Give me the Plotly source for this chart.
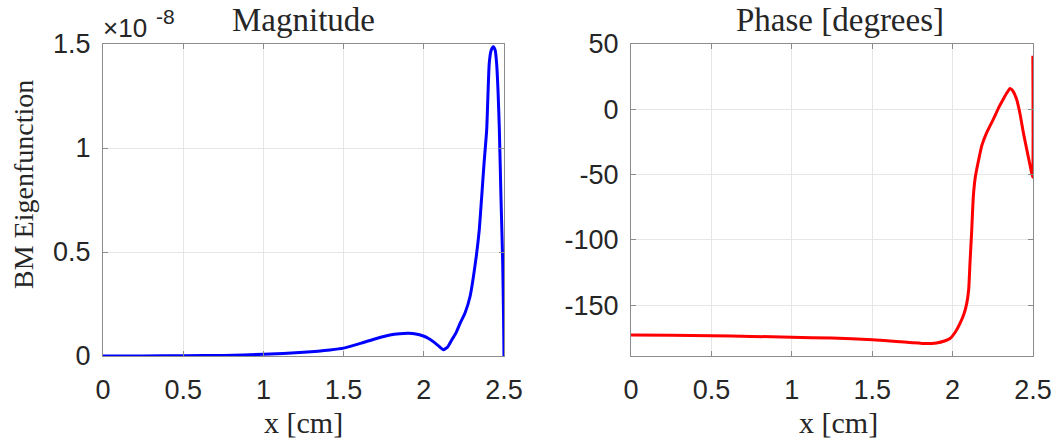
import plotly.graph_objects as go

W, H = 1057, 443

# Magnitude data (units of 1e-8)
mag_x = [0.0, 0.25, 0.5, 0.75, 1.0, 1.25, 1.415, 1.5, 1.623, 1.7, 1.789, 1.85, 1.904,
         1.95, 1.997, 2.03, 2.059, 2.09, 2.122, 2.15, 2.174, 2.2, 2.226, 2.257, 2.288,
         2.322, 2.345, 2.361, 2.375, 2.392, 2.408, 2.42, 2.433, 2.445, 2.454, 2.463,
         2.471, 2.481, 2.492, 2.497, 2.5]
mag_y = [0.0, 0.0005, 0.001, 0.003, 0.008, 0.018, 0.029, 0.038, 0.065, 0.083, 0.101,
         0.107, 0.109, 0.106, 0.096, 0.084, 0.069, 0.05, 0.03, 0.045, 0.077, 0.11,
         0.157, 0.207, 0.285, 0.45, 0.6, 0.766, 0.92, 1.087, 1.407, 1.47, 1.487, 1.47,
         1.407, 1.27, 1.087, 0.766, 0.446, 0.2, 0.0]

# Phase data (degrees)
ph_x = [0.0, 0.25, 0.5, 0.75, 1.0, 1.25, 1.5, 1.65, 1.75, 1.839, 1.9, 1.95, 1.984,
        2.02, 2.046, 2.07, 2.088, 2.1, 2.108, 2.118, 2.129, 2.14, 2.15, 2.165, 2.181,
        2.212, 2.253, 2.29, 2.315, 2.34, 2.357, 2.375, 2.398, 2.42, 2.44, 2.465,
        2.485, 2.497, 2.499]
ph_y = [-173.0, -173.2, -173.5, -174.0, -174.6, -175.3, -176.5, -177.8, -178.8,
        -179.5, -179.0, -177.5, -175.6, -170.0, -164.0, -157.0, -148.7, -138.0,
        -118.0, -95.0, -66.7, -53.0, -46.0, -37.0, -28.0, -17.9, -7.7, 2.0, 7.7,
        13.0, 16.0, 14.0, 7.7, -4.0, -17.9, -33.0, -45.0, -52.0, 41.0]

x_ticks = [0, 0.5, 1, 1.5, 2, 2.5]
x_ticklabels = ["0", "0.5", "1", "1.5", "2", "2.5"]
mag_ticks = [0, 0.5, 1, 1.5]
mag_ticklabels = ["0", "0.5", "1", "1.5"]
ph_ticks = [-150, -100, -50, 0, 50]
ph_ticklabels = ["-150", "-100", "-50", "0", "50"]

SERIF = "Liberation Serif"
SANS = "Liberation Sans, Arial"
FRAME = "#8c8c8c"
GRID = "#e6e6e6"
TXT = "#262626"

def px(x):
    return x / W

def py(y):
    return 1 - y / H

fig = go.Figure()
fig.add_trace(go.Scatter(x=mag_x, y=mag_y, mode="lines",
                         line=dict(color="#0000ff", width=3, shape="spline", smoothing=0.5),
                         xaxis="x", yaxis="y", showlegend=False))
fig.add_trace(go.Scatter(x=ph_x, y=ph_y, mode="lines",
                         line=dict(color="#ff0000", width=3, shape="spline", smoothing=0.5),
                         xaxis="x2", yaxis="y2", showlegend=False))

axis_common = dict(showline=True, linecolor=FRAME, linewidth=1, mirror="ticks",
                   ticks="inside", ticklen=5, tickcolor=FRAME, showgrid=True,
                   gridcolor=GRID, gridwidth=1, zeroline=False, automargin=False,
                   tickfont=dict(family=SANS, size=27, color=TXT))

fig.update_layout(
    width=W, height=H, margin=dict(l=0, r=0, t=0, b=0, autoexpand=False),
    paper_bgcolor="white", plot_bgcolor="white",
    xaxis=dict(domain=[px(103), px(504)], range=[0, 2.5], tickvals=x_ticks,
               ticktext=x_ticklabels, anchor="y", ticklabelstandoff=10, **axis_common),
    yaxis=dict(domain=[py(356), py(44)], range=[0, 1.5], tickvals=mag_ticks,
               ticktext=mag_ticklabels, anchor="x", ticklabelstandoff=6, **axis_common),
    xaxis2=dict(domain=[px(631), px(1033)], range=[0, 2.5], tickvals=x_ticks,
                ticktext=x_ticklabels, anchor="y2", ticklabelstandoff=10, **axis_common),
    yaxis2=dict(domain=[py(356), py(44)], range=[-189, 50], tickvals=ph_ticks,
                ticktext=ph_ticklabels, anchor="x2", ticklabelstandoff=6, **axis_common),
)

ann = [
    dict(text="Magnitude", x=px(303), y=py(20), font=dict(family=SERIF, size=33, color=TXT)),
    dict(text="Phase [degrees]", x=px(840), y=py(20), font=dict(family=SERIF, size=33, color=TXT)),
    dict(text="x [cm]", x=px(303), y=py(422), font=dict(family=SERIF, size=30, color=TXT)),
    dict(text="x [cm]", x=px(838), y=py(422), font=dict(family=SERIF, size=30, color=TXT)),
    dict(text="BM Eigenfunction", x=px(23), y=py(185), textangle=-90,
         font=dict(family=SERIF, size=28, color=TXT)),
]
for a in ann:
    a.update(xref="paper", yref="paper", showarrow=False, xanchor="center", yanchor="middle")
    fig.add_annotation(**a)

fig.add_annotation(text="×10", x=px(101), y=py(28), xref="paper", yref="paper",
                   showarrow=False, xanchor="left", yanchor="middle",
                   font=dict(family=SANS, size=26, color=TXT))
fig.add_annotation(text="-8", x=px(154), y=py(16), xref="paper", yref="paper",
                   showarrow=False, xanchor="left", yanchor="middle",
                   font=dict(family=SANS, size=21, color=TXT))

fig.write_html("out.html")
